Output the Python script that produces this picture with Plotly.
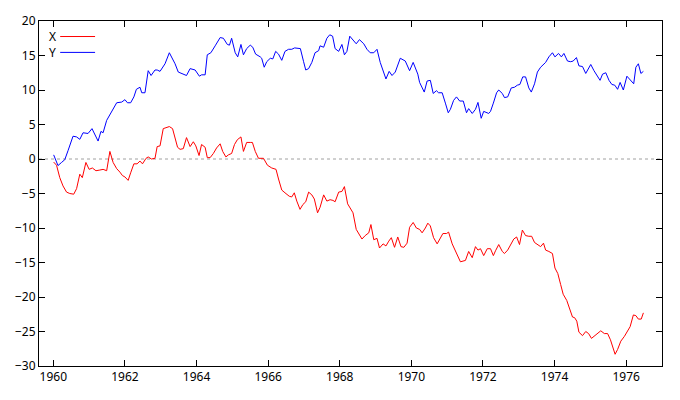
import plotly.graph_objects as go

# Series Y (blue): decimal years and values
y_years = [1960.01, 1960.13, 1960.23, 1960.32, 1960.41, 1960.55, 1960.65, 1960.74, 1960.83, 1960.97,
           1961.08, 1961.25, 1961.33, 1961.39, 1961.49, 1961.63, 1961.77, 1961.91, 1962.00, 1962.07,
           1962.16, 1962.25, 1962.32, 1962.42, 1962.47, 1962.56, 1962.65, 1962.73, 1962.84, 1962.90,
           1962.98, 1963.12, 1963.24, 1963.40, 1963.49, 1963.72, 1963.82, 1963.96, 1964.08, 1964.14,
           1964.24, 1964.30, 1964.40, 1964.52, 1964.66, 1964.75, 1964.86, 1964.92, 1964.98, 1965.08,
           1965.15, 1965.24, 1965.31, 1965.40, 1965.50, 1965.57, 1965.65, 1965.78, 1965.82, 1965.89,
           1965.96, 1966.06, 1966.13, 1966.21, 1966.29, 1966.38, 1966.47, 1966.57, 1966.66, 1966.74,
           1966.82, 1966.90, 1966.99, 1967.05, 1967.13, 1967.22, 1967.31, 1967.41, 1967.45, 1967.55,
           1967.64, 1967.72, 1967.80, 1967.87, 1967.97, 1968.06, 1968.13, 1968.20, 1968.28, 1968.38,
           1968.46, 1968.55, 1968.67, 1968.76, 1968.85, 1968.95, 1969.04, 1969.13, 1969.21, 1969.29,
           1969.38, 1969.46, 1969.55, 1969.69, 1969.83, 1969.95, 1970.05, 1970.18, 1970.23, 1970.30,
           1970.36, 1970.44, 1970.53, 1970.61, 1970.70, 1970.76, 1970.86, 1970.95, 1971.03, 1971.09,
           1971.18, 1971.26, 1971.35, 1971.45, 1971.54, 1971.60, 1971.70, 1971.79, 1971.86, 1971.95,
           1972.02, 1972.16, 1972.21, 1972.29, 1972.38, 1972.44, 1972.54, 1972.60, 1972.69, 1972.79,
           1972.88, 1972.96, 1973.03, 1973.11, 1973.19, 1973.28, 1973.35, 1973.44, 1973.52, 1973.61,
           1973.75, 1973.84, 1973.94, 1974.01, 1974.11, 1974.19, 1974.26, 1974.36, 1974.45, 1974.52,
           1974.61, 1974.68, 1974.78, 1974.87, 1975.01, 1975.10, 1975.20, 1975.27, 1975.34, 1975.43,
           1975.52, 1975.60, 1975.68, 1975.76, 1975.83, 1975.92, 1976.02, 1976.11, 1976.21, 1976.27,
           1976.34, 1976.41, 1976.48]
y_values = [0.6, -0.95, -0.5, -0.1, 1.2, 3.3, 3.2, 2.85, 3.8, 3.7,
            4.4, 2.6, 4.0, 3.8, 5.6, 6.9, 8.15, 8.25, 8.6, 8.15,
            8.15, 9.0, 10.1, 10.4, 9.6, 9.6, 12.8, 12.1, 12.9, 12.9,
            12.7, 13.8, 15.4, 13.8, 12.6, 12.1, 13.1, 12.9, 12.0, 12.2,
            12.2, 15.1, 15.4, 16.4, 17.6, 17.5, 16.6, 16.5, 17.5, 15.4,
            14.8, 16.6, 15.1, 16.0, 16.5, 16.2, 15.2, 14.8, 14.6, 13.3,
            14.1, 14.6, 14.5, 15.6, 15.2, 14.3, 15.6, 15.9, 15.9, 16.1,
            16.0, 16.0, 14.1, 12.9, 13.1, 14.0, 15.4, 15.7, 16.4, 16.2,
            17.5, 18.0, 17.8, 16.0, 15.6, 16.6, 15.1, 15.6, 17.8, 17.1,
            16.7, 17.3, 16.7, 15.9, 15.4, 15.4, 15.9, 14.0, 12.8, 11.6,
            12.7, 12.1, 12.6, 14.6, 14.2, 12.8, 14.0, 12.3, 11.1, 10.2,
            9.7, 11.3, 11.4, 9.5, 9.9, 9.6, 9.6, 8.1, 6.7, 7.2,
            8.5, 9.0, 8.4, 8.4, 6.7, 7.3, 6.6, 7.2, 8.2, 5.9,
            6.9, 6.6, 6.9, 8.1, 9.6, 10.0, 9.5, 8.9, 9.0, 10.3,
            10.4, 10.7, 10.8, 11.9, 11.9, 10.3, 9.7, 10.9, 12.6, 13.3,
            14.0, 14.8, 15.4, 14.8, 15.3, 14.8, 15.3, 14.2, 14.1, 14.2,
            14.7, 13.5, 13.4, 12.4, 13.7, 12.8, 11.9, 11.4, 12.3, 12.5,
            11.4, 10.8, 10.7, 10.1, 11.1, 10.0, 12.0, 11.4, 10.9, 13.3,
            13.8, 12.4, 12.7]

# Series X (red)
x_years = [1960.01, 1960.09, 1960.18, 1960.27, 1960.37, 1960.46, 1960.57, 1960.65, 1960.74, 1960.81,
           1960.91, 1961.00, 1961.09, 1961.19, 1961.30, 1961.39, 1961.49, 1961.58, 1961.67, 1961.77,
           1961.86, 1961.93, 1962.00, 1962.09, 1962.16, 1962.25, 1962.34, 1962.42, 1962.49, 1962.59,
           1962.65, 1962.74, 1962.84, 1962.90, 1962.98, 1963.07, 1963.24, 1963.33, 1963.47, 1963.54,
           1963.63, 1963.72, 1963.82, 1963.91, 1963.98, 1964.07, 1964.14, 1964.24, 1964.30, 1964.38,
           1964.47, 1964.56, 1964.66, 1964.73, 1964.82, 1964.89, 1964.98, 1965.06, 1965.14, 1965.24,
           1965.31, 1965.40, 1965.50, 1965.56, 1965.64, 1965.73, 1965.87, 1965.98, 1966.10, 1966.22,
           1966.29, 1966.38, 1966.47, 1966.59, 1966.66, 1966.73, 1966.80, 1966.89, 1966.97, 1967.05,
           1967.13, 1967.22, 1967.29, 1967.38, 1967.45, 1967.55, 1967.64, 1967.73, 1967.81, 1967.87,
           1967.97, 1968.06, 1968.13, 1968.22, 1968.29, 1968.37, 1968.46, 1968.55, 1968.62, 1968.71,
           1968.81, 1968.87, 1968.95, 1969.04, 1969.11, 1969.21, 1969.29, 1969.37, 1969.44, 1969.53,
           1969.62, 1969.71, 1969.79, 1969.88, 1969.95, 1970.05, 1970.14, 1970.23, 1970.30, 1970.39,
           1970.46, 1970.53, 1970.62, 1970.72, 1970.79, 1970.88, 1970.98, 1971.04, 1971.14, 1971.23,
           1971.32, 1971.37, 1971.51, 1971.60, 1971.70, 1971.79, 1971.86, 1971.93, 1972.02, 1972.12,
           1972.21, 1972.29, 1972.35, 1972.44, 1972.54, 1972.60, 1972.69, 1972.79, 1972.86, 1972.94,
           1973.02, 1973.10, 1973.19, 1973.28, 1973.36, 1973.44, 1973.52, 1973.61, 1973.69, 1973.75,
           1973.84, 1973.94, 1974.01, 1974.09, 1974.17, 1974.24, 1974.34, 1974.40, 1974.50, 1974.56,
           1974.62, 1974.68, 1974.78, 1974.87, 1974.95, 1975.03, 1975.13, 1975.20, 1975.29, 1975.39,
           1975.48, 1975.56, 1975.62, 1975.69, 1975.76, 1975.85, 1975.95, 1976.04, 1976.11, 1976.20,
           1976.27, 1976.34, 1976.42, 1976.48]
x_values = [-0.45, -0.9, -2.7, -3.9, -4.8, -5.0, -5.1, -4.3, -2.2, -2.7,
            -0.5, -1.5, -1.3, -1.7, -1.6, -1.5, -1.7, 1.1, -0.5, -1.4,
            -1.9, -2.4, -2.6, -3.1, -2.0, -0.7, -0.7, -0.3, -0.7, 0.1,
            0.3, 0.0, 0.1, 1.8, 1.9, 4.4, 4.7, 4.4, 1.7, 1.4,
            1.5, 3.1, 1.8, 2.5, 1.9, 0.5, 2.1, 1.7, 0.2, 0.2,
            0.8, 1.6, 2.2, 1.1, 0.3, 0.6, 0.8, 2.1, 2.8, 3.2,
            1.1, 2.4, 2.4, 2.4, 1.1, 0.1, 0.1, -0.9, -1.3, -1.5,
            -2.9, -4.5, -4.9, -5.4, -5.5, -4.9, -6.1, -7.3, -6.6, -6.2,
            -4.8, -5.2, -5.8, -7.8, -7.0, -5.2, -6.1, -5.9, -6.0, -6.2,
            -4.8, -4.7, -4.0, -6.5, -7.1, -7.8, -10.2, -10.9, -11.6, -11.1,
            -10.7, -9.5, -11.7, -11.5, -12.9, -12.3, -12.6, -11.9, -11.4, -12.8,
            -11.3, -12.7, -12.8, -12.2, -9.9, -9.2, -10.0, -10.2, -10.7, -10.0,
            -9.3, -9.7, -11.4, -12.3, -11.6, -10.8, -10.8, -10.6, -12.3, -13.4,
            -14.3, -14.9, -14.7, -13.4, -14.3, -12.7, -13.2, -13.0, -14.0, -13.0,
            -13.0, -14.0, -13.3, -12.4, -13.4, -13.7, -13.2, -12.2, -11.6, -11.3,
            -12.4, -10.3, -11.1, -11.2, -11.2, -12.1, -12.4, -12.7, -12.2, -13.2,
            -13.4, -13.7, -15.8, -16.6, -18.2, -19.6, -20.5, -21.3, -22.9, -23.0,
            -23.5, -25.1, -25.6, -25.0, -25.3, -26.0, -25.6, -25.3, -24.9, -25.3,
            -25.3, -26.2, -27.2, -28.3, -27.6, -26.4, -25.7, -25.0, -24.3, -22.6,
            -22.7, -23.2, -23.2, -22.3]

x_ticks = [1960, 1962, 1964, 1966, 1968, 1970, 1972, 1974, 1976]
y_ticks = [-30, -25, -20, -15, -10, -5, 0, 5, 10, 15, 20]
series_names = ["X", "Y"]
series_colors = ["#ff0000", "#0000ff"]

fig = go.Figure()
fig.add_trace(go.Scatter(x=x_years, y=x_values, mode="lines", name=series_names[0],
                         line=dict(color=series_colors[0], width=1), showlegend=False))
fig.add_trace(go.Scatter(x=y_years, y=y_values, mode="lines", name=series_names[1],
                         line=dict(color=series_colors[1], width=1), showlegend=False))

# dotted zero line
fig.add_shape(type="line", xref="paper", x0=0, x1=1, yref="y", y0=0, y1=0,
              line=dict(color="#a0a0a0", width=1, dash="dot"), layer="below")

# gnuplot-style key: label then sample line
for i, (nm, col) in enumerate(zip(series_names, series_colors)):
    yp = 0.955 - i * 0.046
    fig.add_annotation(xref="paper", yref="paper", x=0.031, y=yp, text=nm, showarrow=False,
                       xanchor="right", yanchor="middle",
                       font=dict(family="Noto Sans", size=12, color="black"))
    fig.add_shape(type="line", xref="paper", yref="paper", x0=0.034, x1=0.090, y0=yp, y1=yp,
                  line=dict(color=col, width=1))

axis_common = dict(showline=True, linecolor="black", linewidth=1, mirror="allticks",
                   ticks="inside", ticklen=6, tickcolor="black", showgrid=False, zeroline=False,
                   tickfont=dict(family="Noto Sans", size=12, color="black"))
fig.update_xaxes(range=[1959.6, 1977.0], tickvals=x_ticks, ticktext=[str(t) for t in x_ticks],
                 **axis_common)
fig.update_yaxes(range=[-30, 20], tickvals=y_ticks, **axis_common)

fig.update_layout(width=680, height=400, margin=dict(l=39, r=18, t=16, b=34),
                  plot_bgcolor="white", paper_bgcolor="white")
fig.write_html("out.html", config={"displayModeBar": False},
               post_script="document.body.style.margin='0';document.body.style.overflow='hidden';")
